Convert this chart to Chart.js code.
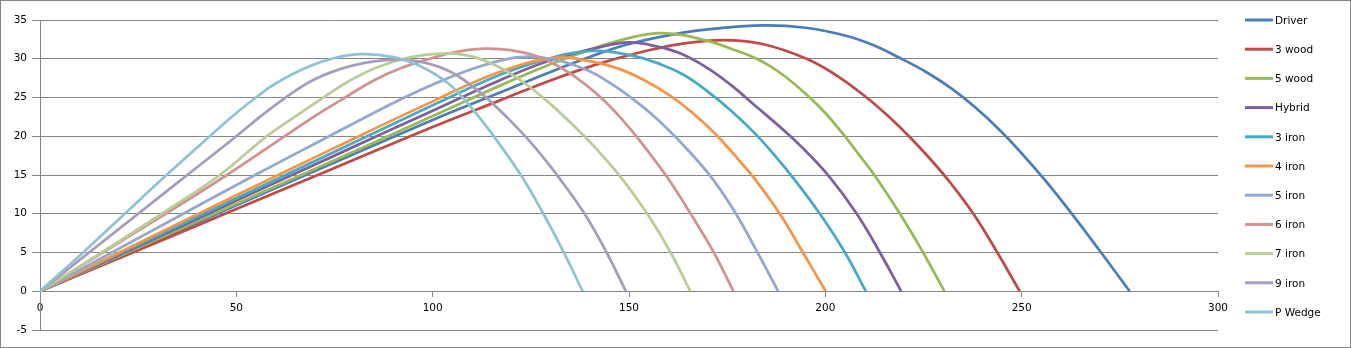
<!DOCTYPE html>
<html>
<head>
<meta charset="utf-8">
<script src="https://cdn.jsdelivr.net/npm/chart.js@4.4.1/dist/chart.umd.min.js"></script>
<style>
  html, body { margin: 0; padding: 0; background: #fff; }
  #wrap { position: relative; width: 1351px; height: 348px; }
</style>
</head>
<body>
<div id="wrap"><canvas id="chart"></canvas></div>
<script>
// Carry distance (x) vs height (y) for each club.
const clubs = ['Driver', '3 wood', '5 wood', 'Hybrid', '3 iron', '4 iron', '5 iron', '6 iron', '7 iron', '9 iron', 'P Wedge'];
const colors = ['#4a7ebb', '#be4b48', '#98b954', '#7d60a0', '#46aac5', '#f69546', '#91a8d0', '#d19392', '#b9cd96', '#a99bbd', '#8fc3d4'];

const driver = [[0, 0], [25, 5.5], [50, 11.1], [75, 16.6], [100, 22.1], [117, 25.6], [130, 28.3], [142.6, 30.7], [150, 31.9], [163, 33.3], [172, 33.9], [184, 34.3], [195, 34], [205, 33], [212, 31.8], [219, 30.1], [226, 28.2], [232, 26.2], [238, 23.8], [244, 21], [250, 17.8], [256, 14.3], [262, 10.5], [268, 6.5], [273, 3.1], [277.5, 0]];
const wood3 = [[0, 0], [25, 5.3], [50, 10.6], [75, 15.9], [100, 21.2], [117, 24.6], [130, 27.2], [142.6, 29.4], [155, 31.1], [163, 31.9], [174, 32.4], [184, 31.9], [195.2, 30], [203, 27.8], [210.5, 25], [216, 22.6], [221.5, 19.9], [227, 16.9], [232, 13.9], [237.7, 10], [243.8, 5], [249.5, 0]];
const wood5 = [[0, 0], [25, 5.6], [50, 11.3], [75, 16.9], [100, 22.6], [117, 26.5], [130, 29.3], [142.6, 31.6], [151, 32.8], [157.5, 33.3], [163, 33.1], [170, 32.3], [176, 31.3], [183.3, 29.8], [189, 28], [195.6, 25.2], [200, 23], [204.5, 20.3], [208, 18], [212.6, 14.9], [219, 10], [224.9, 5], [230.3, 0]];
const hybrid = [[0, 0], [25, 5.8], [50, 11.7], [75, 17.5], [100, 23.3], [117, 27.2], [130, 29.8], [142.6, 31.5], [150, 32.1], [157, 31.6], [163, 30.7], [170, 28.8], [176, 26.6], [182, 24], [188, 21.4], [194, 18.6], [201, 14.8], [208, 10], [213.9, 5], [219.3, 0]];
const iron3 = [[0, 0], [25, 6], [50, 12], [75, 18], [100, 24], [117, 27.9], [128, 29.8], [140, 31], [150, 30.5], [158, 29.3], [164, 27.9], [170, 25.8], [176, 23.3], [182, 20.4], [187, 17.6], [192, 14.5], [198.6, 10], [205, 5], [210.3, 0]];
const iron4 = [[0, 0], [25, 6.2], [50, 12.4], [75, 18.5], [100, 24.5], [117, 28.3], [131, 30.1], [141, 29.6], [148, 28.6], [154, 27.2], [160, 25.4], [166, 23.1], [172, 20.3], [177, 17.5], [182, 14.5], [188.4, 10], [194.3, 5], [200.1, 0]];
const iron5 = [[0, 0], [18.3, 5], [36.5, 10], [54.8, 15], [74, 20.1], [92, 24.8], [102, 27.1], [112, 29], [122, 30.2], [130, 30], [139, 28.6], [146, 26.6], [151, 24.8], [157, 22.3], [163, 19.3], [170.2, 15.2], [176.5, 10.6], [182.3, 5.4], [188, 0]];
const iron6 = [[0, 0], [16, 5], [32, 10], [47.6, 15], [62, 19.9], [70, 22.6], [76.4, 24.6], [85, 27.2], [92, 28.8], [99.3, 30], [106, 30.9], [113, 31.3], [120, 31.1], [127.3, 30.2], [135, 28.1], [142.6, 25.1], [148, 22.3], [152.8, 19.4], [159.6, 14.8], [165.7, 10], [171.6, 5], [176.6, 0]];
const iron7 = [[0, 0], [15.7, 5], [31, 10], [45.8, 15], [57, 19.7], [64, 22.2], [71.3, 24.7], [78, 26.9], [85, 28.7], [92, 29.9], [98, 30.5], [104, 30.7], [110, 30.3], [117, 28.9], [123, 27], [129, 24.6], [135, 21.8], [141.8, 18.3], [148.4, 14.4], [154.9, 9.8], [160.6, 5], [165.6, 0]];
const iron9 = [[0, 0], [12.5, 5], [25, 10], [37.5, 15], [50, 20], [56, 22.5], [62, 24.8], [69, 27.1], [76, 28.6], [83, 29.5], [91, 29.9], [98, 29.5], [105, 28.2], [112, 25.7], [119, 22.4], [126, 18.6], [132.4, 14.5], [138.8, 9.9], [144.3, 5], [149.2, 0]];
const wedge = [[0, 0], [11, 5], [22, 10.2], [32, 14.9], [43, 19.9], [50, 23], [55, 25], [60, 26.8], [68, 28.9], [75, 30.1], [82, 30.6], [90, 30.2], [97, 29], [104, 26.8], [110, 23.6], [116, 19.7], [122.7, 14.8], [128.3, 9.9], [133.4, 5], [138.2, 0]];

const series = [driver, wood3, wood5, hybrid, iron3, iron4, iron5, iron6, iron7, iron9, wedge];

const xTicks = { min: 0, max: 300, step: 50 };
const yTicks = { min: -5, max: 35, step: 5 };

const axisGrey = '#868686';
const tickFont = { family: 'DejaVu Sans', size: 10.5 };

// Legend and outer frame drawn by hand so the plot keeps Excel's proportions.
const sideLegend = {
    id: 'sideLegend',
    afterDraw(chart) {
        const ctx = chart.ctx;
        ctx.save();
        ctx.font = '10.5px "DejaVu Sans"';
        ctx.textBaseline = 'middle';
        chart.data.datasets.forEach((ds, i) => {
            const y = 20 + i * 29.2;
            ctx.strokeStyle = ds.borderColor;
            ctx.lineWidth = 3;
            ctx.beginPath();
            ctx.moveTo(1245, y);
            ctx.lineTo(1273, y);
            ctx.stroke();
            ctx.fillStyle = '#000';
            ctx.fillText(ds.label, 1275, y + 1);
        });
        ctx.strokeStyle = axisGrey;
        ctx.lineWidth = 1;
        ctx.strokeRect(0.5, 0.5, chart.width - 1, chart.height - 1);
        ctx.restore();
    }
};

new Chart(document.getElementById('chart'), {
    type: 'scatter',
    data: {
        datasets: series.map((pts, i) => ({
            label: clubs[i],
            data: pts.map(p => ({ x: p[0], y: p[1] })),
            showLine: true,
            borderColor: colors[i],
            backgroundColor: colors[i],
            borderWidth: 2.75,
            pointRadius: 0,
            tension: 0.4,
            order: series.length - i
        }))
    },
    options: {
        responsive: true,
        maintainAspectRatio: false,
        animation: false,
        layout: { padding: { left: 0, right: 133, top: 20, bottom: 18 } },
        plugins: { legend: { display: false }, tooltip: { enabled: false } },
        scales: {
            x: {
                type: 'linear',
                position: { y: 0 },
                min: xTicks.min,
                max: xTicks.max,
                ticks: { stepSize: xTicks.step, color: '#000', font: tickFont, padding: 6, maxRotation: 0 },
                grid: { drawOnChartArea: false, drawTicks: true, tickLength: 5, color: axisGrey },
                border: { color: axisGrey }
            },
            y: {
                min: yTicks.min,
                max: yTicks.max,
                ticks: { stepSize: yTicks.step, color: '#000', font: tickFont, padding: 5 },
                grid: { color: axisGrey, tickLength: 8 },
                border: { color: axisGrey },
                afterFit(scale) { scale.width = 40; }
            }
        }
    },
    plugins: [sideLegend]
});
</script>
</body>
</html>
